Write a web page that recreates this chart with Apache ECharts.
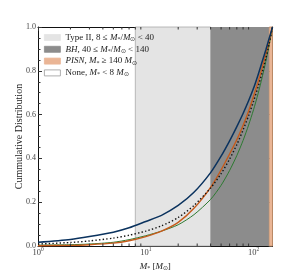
<!DOCTYPE html>
<html>
<head>
<meta charset="utf-8">
<script src="https://cdn.jsdelivr.net/npm/echarts@6/dist/echarts.min.js"></script>
<style>html,body{margin:0;padding:0;background:#fff}#c{width:303px;height:274px}</style>
</head>
<body>
<div id="c"></div>
<script>
// ---- data ----
const masses = [1, 2, 3, 5, 7, 10, 14, 20, 28, 40, 50, 60, 70, 80, 90, 100, 110, 120, 130, 140, 150];
const cumBlue   = [0.017, 0.030, 0.043, 0.063, 0.083, 0.112, 0.140, 0.185, 0.245, 0.335, 0.410, 0.480, 0.545, 0.605, 0.663, 0.720, 0.780, 0.840, 0.895, 0.950, 1.0];
const cumOrange = [0.001, 0.003, 0.006, 0.013, 0.024, 0.043, 0.068, 0.108, 0.172, 0.268, 0.347, 0.420, 0.485, 0.550, 0.615, 0.683, 0.748, 0.812, 0.875, 0.938, 1.0];
const cumBlack  = [0.009, 0.016, 0.023, 0.036, 0.049, 0.068, 0.092, 0.130, 0.185, 0.265, 0.330, 0.397, 0.463, 0.530, 0.595, 0.660, 0.725, 0.790, 0.855, 0.925, 1.0];
const cumGreen  = [0.004, 0.006, 0.009, 0.017, 0.029, 0.047, 0.068, 0.097, 0.143, 0.213, 0.277, 0.345, 0.413, 0.482, 0.552, 0.622, 0.694, 0.768, 0.843, 0.920, 1.0];

const regionTypeII = [8, 40];
const regionBH = [40, 140];
const regionPISN = [140, 150];

const xMin = 1, xMax = 150;
const yTicks = [0.0, 0.2, 0.4, 0.6, 0.8, 1.0];
const logMinor = [2, 3, 4, 5, 6, 7, 8, 9, 20, 30, 40, 50, 60, 70, 80, 90];

const legendLabels = [
  'Type II, 8 \u2264 {i|M}{sub|*}/{i|M}{sub|\u2299} < 40',
  '{i|BH}, 40 \u2264 {i|M}{sub|*}/{i|M}{sub|\u2299} < 140',
  '{i|PISN}, {i|M}{sub|*} \u2265 140 {i|M}{sub|\u2299}',
  'None, {i|M}{sub|*} < 8 {i|M}{sub|\u2299}'
];
const legendColors = ['#e4e4e4', '#8c8c8c', '#eab595', '#ffffff'];

// ---- chart ----
const FONT = 'Liberation Serif';
const zip = (a, b) => a.map((v, i) => [v, b[i]]);
const rich = {
  i: {fontFamily: FONT, fontStyle: 'italic', fontSize: 9, color: '#222'},
  sub: {fontFamily: FONT, fontSize: 6, color: '#222', padding: [4, 0, 0, 0]}
};
const chart = echarts.init(document.getElementById('c'), null, {renderer: 'canvas'});

const grid = {left: 38, top: 27, right: 30.5, bottom: 28, outerBoundsMode: 'none', containLabel: false};
const axisLineStyle = {color: '#111', width: 1};

function xAx(pos, showLabel) {
  return {
    type: 'log', logBase: 10, min: xMin, max: xMax, interval: 1, position: pos,
    axisLine: {show: true, onZero: false, lineStyle: axisLineStyle},
    axisTick: {show: true, inside: true, length: 4, lineStyle: {color: '#333'}},
    splitLine: {show: false},
    axisLabel: {
      show: showLabel, showMaxLabel: false, margin: 1,
      formatter: v => {
        const l = Math.log10(v), e = Math.round(l);
        if (Math.abs(l - e) > 1e-6) return '';
        return '{b|10}{s|' + e + '}';
      },
      rich: {
        b: {fontFamily: FONT, fontSize: 8.5, color: '#444'},
        s: {fontFamily: FONT, fontSize: 5.5, color: '#444', padding: [0, 0, 5, 0]}
      }
    },
    name: showLabel ? '{i|M}{sub|*} [{i|M}{sub|\u2299}]' : '',
    nameLocation: 'middle', nameGap: 11,
    nameTextStyle: {fontFamily: FONT, fontSize: 9, color: '#222', rich: rich}
  };
}
function yAx(pos, showLabel) {
  return {
    type: 'value', min: 0, max: 1, interval: 0.2, position: pos,
    axisLine: {show: true, lineStyle: axisLineStyle},
    axisTick: {show: true, inside: true, length: 4, lineStyle: {color: '#333'}},
    minorTick: {show: true, splitNumber: 4, length: 2.5, lineStyle: {color: '#333'}},
    splitLine: {show: false},
    axisLabel: {show: showLabel, margin: 2, fontFamily: FONT, fontSize: 8, color: '#444',
      formatter: v => yTicks.find(t => Math.abs(t - v) < 1e-9) !== undefined ? v.toFixed(1) : ''},
    name: showLabel ? 'Cummulative Distribution' : '',
    nameLocation: 'middle', nameGap: 14, nameRotate: 90, nameMoveOverlap: false,
    nameTextStyle: {fontFamily: FONT, fontSize: 10, color: '#222'}
  };
}

const lineSeries = (name, m, c, color, width, type, z) => ({
  name, type: 'line', data: zip(m, c), xAxisIndex: 0, yAxisIndex: 0,
  showSymbol: false, symbol: 'none', smooth: 0.25, clip: true, z,
  lineStyle: {color, width, type}
});

const option = {
  animation: false,
  grid,
  xAxis: [xAx('bottom', true), xAx('top', false)],
  yAxis: [yAx('left', true), yAx('right', false)],
  graphic: legendLabels.map((t, k) => ({
    type: 'group', left: 44, top: 33 + k * 11.8, z: 100,
    children: [
      {type: 'rect', z: 100, shape: {x: 0, y: 0, width: 16, height: 6},
       style: {fill: legendColors[k], stroke: k === 3 ? '#999' : legendColors[k], lineWidth: 0.8}},
      {type: 'text', z: 100, x: 21, y: 3,
       style: {text: t, fontFamily: FONT, fontSize: 9, fill: '#222', verticalAlign: 'middle', rich: rich}}
    ]
  })),
  series: [
    {
      name: 'regions', type: 'line', data: [[xMin, 0]], symbol: 'none', silent: true, z: 1,
      lineStyle: {opacity: 0},
      markArea: {
        silent: true,
        data: [
          [{xAxis: regionTypeII[0], itemStyle: {color: legendColors[0], borderColor: '#a8a8a8', borderWidth: 0.8}}, {xAxis: regionTypeII[1]}],
          [{xAxis: regionBH[0], itemStyle: {color: legendColors[1]}}, {xAxis: regionBH[1]}],
          [{xAxis: regionPISN[0], itemStyle: {color: legendColors[2], borderColor: '#c9936c', borderWidth: 0.8}}, {xAxis: regionPISN[1]}]
        ]
      }
    },
    {
      name: 'minorLogTicks', type: 'custom', xAxisIndex: 0, yAxisIndex: 0, z: 5, silent: true,
      data: logMinor.map(v => [v]),
      renderItem: (params, api) => {
        const b = api.coord([api.value(0), 0]);
        const t = api.coord([api.value(0), 1]);
        return {type: 'group', children: [
          {type: 'line', shape: {x1: b[0], y1: b[1], x2: b[0], y2: b[1] - 2.5}, style: {stroke: '#333', lineWidth: 1}},
          {type: 'line', shape: {x1: t[0], y1: t[1], x2: t[0], y2: t[1] + 2.5}, style: {stroke: '#333', lineWidth: 1}}
        ]};
      }
    },
    lineSeries('green', masses, cumGreen, '#2e7a32', 1, 'solid', 3),
    lineSeries('orange', masses, cumOrange, '#c65a1a', 1.4, 'solid', 4),
    lineSeries('black', masses, cumBlack, '#111111', 1.4, [1.4, 2.2], 5),
    lineSeries('blue', masses, cumBlue, '#0a325e', 1.5, 'solid', 6)
  ]
};
chart.setOption(option);
</script>
</body>
</html>
